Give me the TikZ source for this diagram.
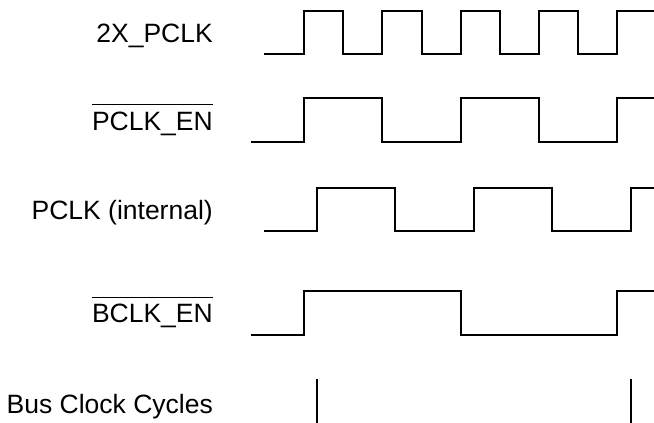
\documentclass[tikz,border=0pt]{standalone}
\usepackage{fontspec}
\setmainfont{Liberation Sans}
\begin{document}
\begin{tikzpicture}[x=1pt,y=-1pt,
  sig/.style={line width=1.5pt, line join=miter},
  lbl/.style={anchor=base east, inner sep=0pt, font=\fontsize{26.5}{30}\selectfont},
  bar/.style={line width=1.4pt}]
\useasboundingbox (0,0) rectangle (654,423);
% labels
\node[lbl] (l1) at (213,42) {2X\_PCLK};
\node[lbl] (l2) at (213,130) {PCLK\_EN};
\node[lbl] (l3) at (213,219) {PCLK (internal)};
\node[lbl] (l4) at (213,322) {BCLK\_EN};
\node[lbl] (l5) at (213,413) {Bus Clock Cycles};
\draw[bar] ([yshift=6.5pt]l2.north west) -- ([yshift=6.5pt]l2.north east);
\draw[bar] ([yshift=6pt]l4.north west) -- ([yshift=6pt]l4.north east);
% 2X_PCLK
\draw[sig] (264,54) -- (304,54) -- (304,11) -- (343,11) -- (343,54) -- (382,54) -- (382,11)
  -- (422,11) -- (422,54) -- (461,54) -- (461,11) -- (500,11) -- (500,54) -- (539,54)
  -- (539,11) -- (578,11) -- (578,54) -- (617,54) -- (617,11) -- (654,11);
% PCLK_EN
\draw[sig] (251,142) -- (304,142) -- (304,98) -- (382,98) -- (382,142) -- (461,142)
  -- (461,98) -- (539,98) -- (539,142) -- (617,142) -- (617,98) -- (654,98);
% PCLK (internal)
\draw[sig] (264,231) -- (317,231) -- (317,188) -- (395,188) -- (395,231) -- (474,231)
  -- (474,188) -- (552,188) -- (552,231) -- (631,231) -- (631,188) -- (654,188);
% BCLK_EN
\draw[sig] (251,335) -- (304,335) -- (304,291) -- (461,291) -- (461,335) -- (617,335)
  -- (617,291) -- (654,291);
% Bus clock cycles
\draw[sig] (317,379) -- (317,423);
\draw[sig] (631,379) -- (631,423);
\end{tikzpicture}
\end{document}
